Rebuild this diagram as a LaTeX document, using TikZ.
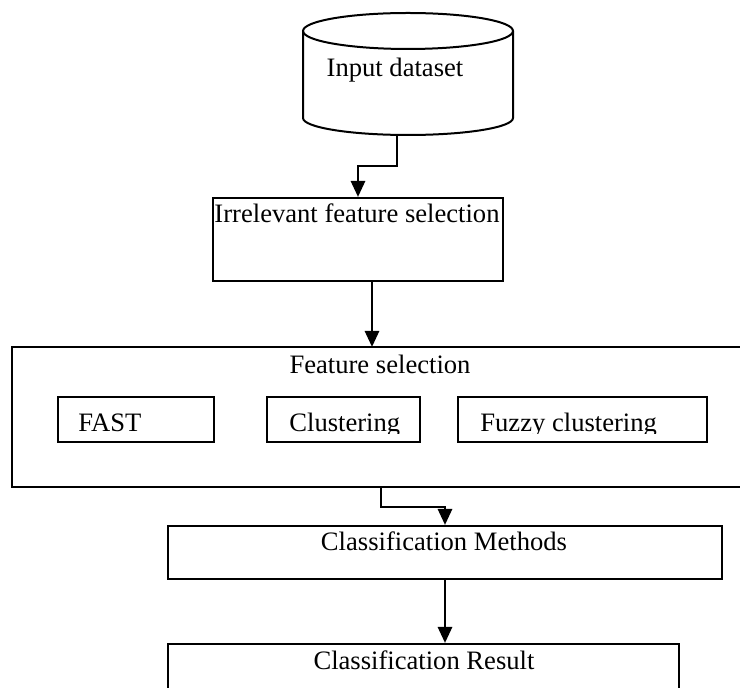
\documentclass[tikz,border=0pt]{standalone}
\usepackage{fontspec}
\setmainfont{Liberation Serif}
\usetikzlibrary{arrows.meta,calc}

\begin{document}
\begin{tikzpicture}[x=0.5pt, y=-0.5pt, >={Triangle[length=8pt,width=7pt]},
    font=\fontsize{13.3}{16}\selectfont,
    box/.style={draw, line width=1pt, rectangle, inner sep=0pt},
    flow/.style={->, line width=1.4pt},
    txt/.style={inner sep=0pt}]
    \useasboundingbox (0,0) rectangle (740,688);
    \clip (0,0) rectangle (740,688);
    % database
    \draw[line width=1pt] (303,31) -- (303,118) arc[start angle=180, end angle=0, x radius=105, y radius=17] -- (513,31);
    \draw[line width=1pt] (408,31) ellipse [x radius=105, y radius=18];
    \node[txt] (dbtext) at (395,70) {Input dataset};
    \coordinate (dbout) at (397,135);
    % boxes
    \node[box, minimum width=145pt, minimum height=41.5pt] (irr) at (358,239.5) {};
    \node[txt, anchor=base] (irrtext) at (357,223) {Irrelevant feature selection};
    \node[box, minimum width=374pt, minimum height=70pt] (fs) at (386,417) {};
    \node[txt, anchor=base] (fstext) at (380,374) {Feature selection};
    \node[box, minimum width=78pt, minimum height=22.5pt] (fast) at (135.5,419.5) {};
    \node[box, minimum width=76.5pt, minimum height=22.5pt] (clus) at (343.5,419.5) {};
    \node[box, minimum width=124.5pt, minimum height=22.5pt] (fuzzy) at (582.5,419.5) {};
    \begin{scope}
        \clip (57,397) rectangle (708,434);
        \node[txt, anchor=base west] (fasttext) at (78,432) {FAST};
        \node[txt, anchor=base west] (clustext) at (289,432) {Clustering};
        \node[txt, anchor=base west] (fuzzytext) at (480,432) {Fuzzy clustering};
    \end{scope}
    \node[box, minimum width=277pt, minimum height=26.5pt] (meth) at (445,552.5) {};
    \node[txt, anchor=base] (methtext) at (444,551) {Classification Methods};
    \node[box, minimum width=255.5pt, minimum height=28pt] (res) at (423.5,672) {};
    \node[txt, anchor=base] (restext) at (424,670) {Classification Result};
    % connectors
    \coordinate (fsin) at (372,347);
    \coordinate (fsout) at (381,487);
    \draw[flow] (dbout) -- ++(0,31) -| (irr.north);
    \draw[flow] (irr.south -| fsin) -- (fsin);
    \draw[flow] (fsout) -- ++(0,20) -| (meth.north);
    \draw[flow] (meth.south) -- (meth.south |- res.north);
\end{tikzpicture}
\end{document}
